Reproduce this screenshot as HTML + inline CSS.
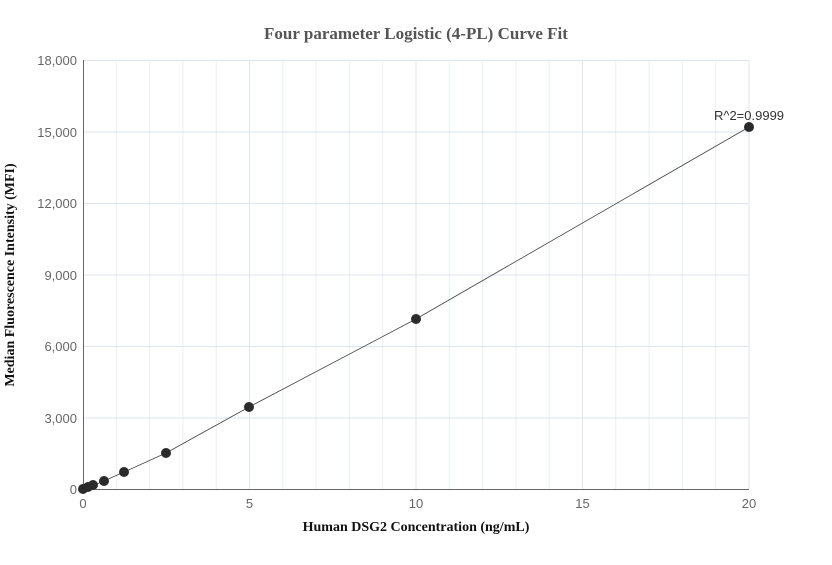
<!DOCTYPE html>
<html><head><style>
body{margin:0;background:#fff;}
svg text{font-family:"Liberation Sans",sans-serif;}
</style></head><body>
<svg width="832" height="560" xmlns="http://www.w3.org/2000/svg">
<rect width="832" height="560" fill="#fff"/>
<g stroke="#e8eef5" stroke-width="1">
<line x1="116.3" y1="60" x2="116.3" y2="489"/><line x1="149.6" y1="60" x2="149.6" y2="489"/><line x1="182.9" y1="60" x2="182.9" y2="489"/><line x1="216.2" y1="60" x2="216.2" y2="489"/>
<line x1="282.8" y1="60" x2="282.8" y2="489"/><line x1="316.1" y1="60" x2="316.1" y2="489"/><line x1="349.4" y1="60" x2="349.4" y2="489"/><line x1="382.7" y1="60" x2="382.7" y2="489"/>
<line x1="449.3" y1="60" x2="449.3" y2="489"/><line x1="482.6" y1="60" x2="482.6" y2="489"/><line x1="515.9" y1="60" x2="515.9" y2="489"/><line x1="549.2" y1="60" x2="549.2" y2="489"/>
<line x1="615.8" y1="60" x2="615.8" y2="489"/><line x1="649.1" y1="60" x2="649.1" y2="489"/><line x1="682.4" y1="60" x2="682.4" y2="489"/><line x1="715.7" y1="60" x2="715.7" y2="489"/>
</g>
<g stroke="#dde5ee" stroke-width="1">
<line x1="249.5" y1="60" x2="249.5" y2="489"/><line x1="416" y1="60" x2="416" y2="489"/><line x1="582.5" y1="60" x2="582.5" y2="489"/><line x1="749" y1="60" x2="749" y2="489"/>
<line x1="83" y1="60.5" x2="749" y2="60.5"/><line x1="83" y1="132" x2="749" y2="132"/><line x1="83" y1="203.5" x2="749" y2="203.5"/><line x1="83" y1="275" x2="749" y2="275"/><line x1="83" y1="346.5" x2="749" y2="346.5"/><line x1="83" y1="418" x2="749" y2="418"/>
</g>
<line x1="83.5" y1="60" x2="83.5" y2="489" stroke="#666"/>
<line x1="83" y1="489.5" x2="749" y2="489.5" stroke="#666"/>
<g font-size="13" fill="#666" text-anchor="end">
<text x="77" y="494">0</text><text x="77" y="423">3,000</text><text x="77" y="351">6,000</text><text x="77" y="280">9,000</text><text x="77" y="208">12,000</text><text x="77" y="137">15,000</text><text x="77" y="65">18,000</text>
</g>
<g font-size="13" fill="#666" text-anchor="middle">
<text x="83" y="508">0</text><text x="249.5" y="508">5</text><text x="416" y="508">10</text><text x="582.5" y="508">15</text><text x="749" y="508">20</text>
</g>
<polyline points="83,489 88,487.5 93,485.5 104,481 124,472 166,453 249,407 416,319 749,127" fill="none" stroke="#444" stroke-width="0.8"/>
<g fill="#2b2b2b">
<circle cx="83" cy="489" r="5"/><circle cx="88" cy="487" r="5"/><circle cx="93" cy="485" r="5"/><circle cx="104" cy="481" r="5"/><circle cx="124" cy="472" r="5"/><circle cx="166" cy="453" r="5"/><circle cx="249" cy="407" r="5"/><circle cx="416" cy="319" r="5"/><circle cx="749" cy="127" r="5"/>
</g>
<text x="749" y="120" font-size="13" fill="#333" text-anchor="middle">R^2=0.9999</text>
<text x="416" y="39" font-size="17" font-weight="bold" fill="#555" text-anchor="middle" style="font-family:'Liberation Serif',serif">Four parameter Logistic (4-PL) Curve Fit</text>
<text x="416" y="531" font-size="14" font-weight="bold" fill="#111" text-anchor="middle" style="font-family:'Liberation Serif',serif">Human DSG2 Concentration (ng/mL)</text>
<text transform="translate(14,275) rotate(-90)" font-size="14" font-weight="bold" fill="#111" text-anchor="middle" style="font-family:'Liberation Serif',serif">Median Fluorescence Intensity (MFI)</text>
</svg>
</body></html>
